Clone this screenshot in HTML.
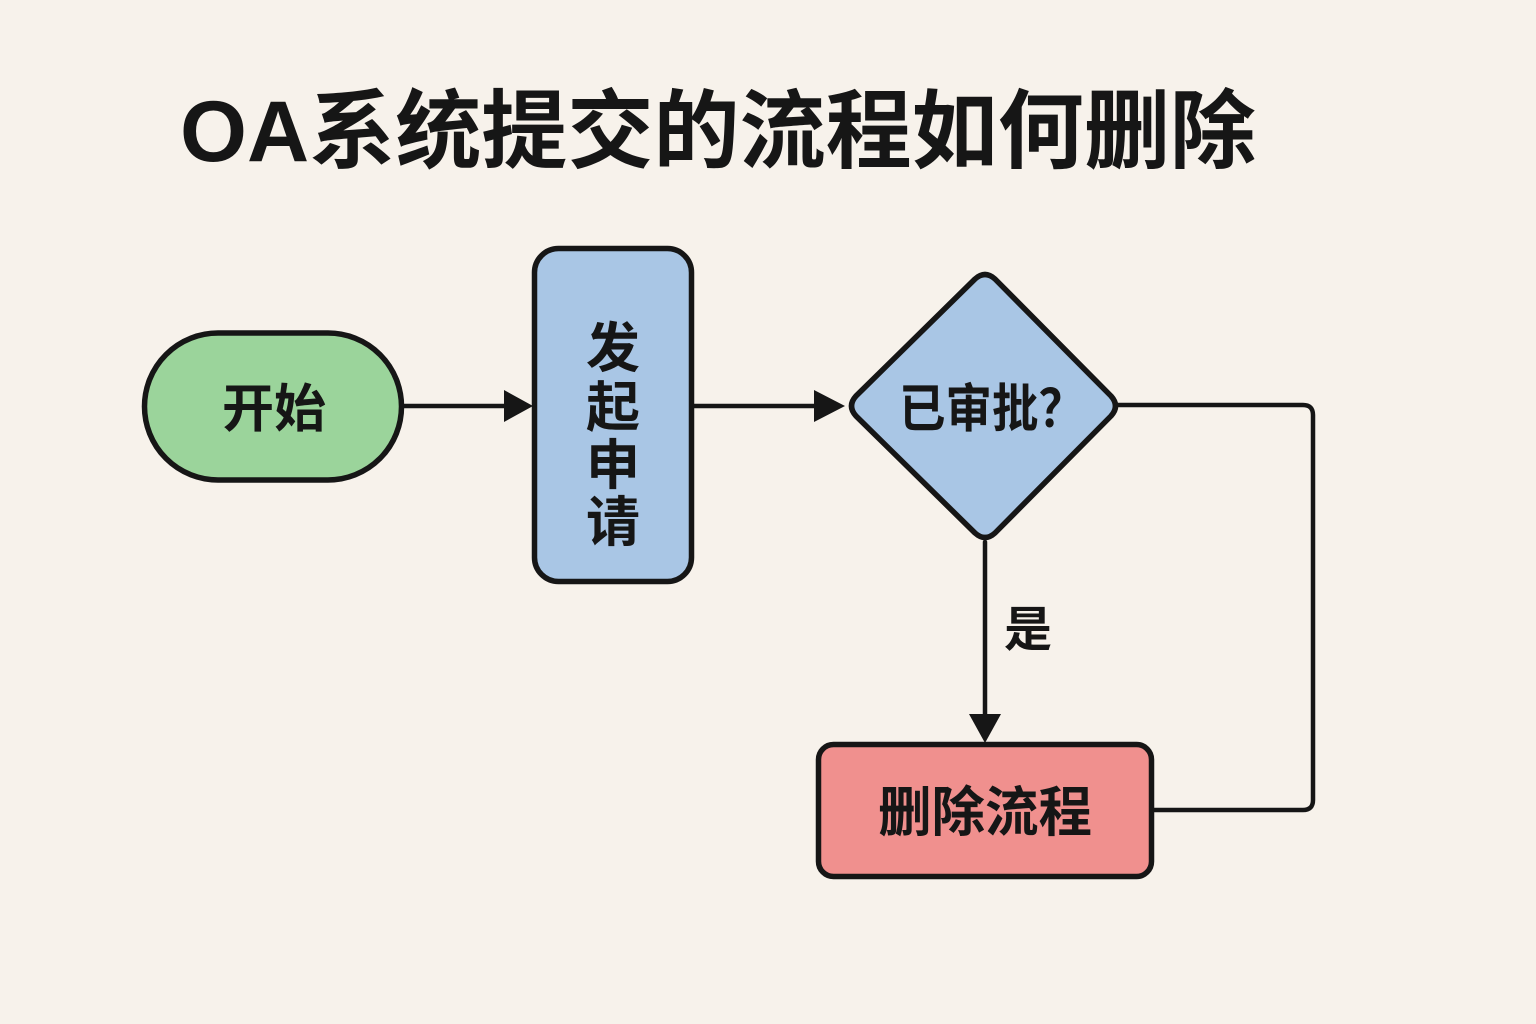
<!DOCTYPE html>
<html>
<head>
<meta charset="utf-8">
<style>
  html, body { margin: 0; padding: 0; }
  body { width: 1536px; height: 1024px; background: #f7f2eb; overflow: hidden; }
  svg { display: block; }
  text { font-family: "Liberation Sans", "Noto Sans CJK SC", sans-serif; font-weight: bold; fill: #161616; }
</style>
</head>
<body>
<svg width="1536" height="1024" viewBox="0 0 1536 1024" xmlns="http://www.w3.org/2000/svg">
  <rect x="0" y="0" width="1536" height="1024" fill="#f7f2eb"/>

  <!-- Title -->
  <text x="180" y="161" font-size="86" textLength="1076" lengthAdjust="spacingAndGlyphs">OA系统提交的流程如何删除</text>

  <!-- Connectors -->
  <g stroke="#161616" stroke-width="4.5" fill="none" stroke-linecap="round" stroke-linejoin="round">
    <line x1="404" y1="406" x2="508" y2="406"/>
    <line x1="694" y1="406" x2="820" y2="406"/>
    <line x1="985" y1="542" x2="985" y2="718"/>
    <path d="M1118 405 L1303 405 Q1313 405 1313 415 L1313 800 Q1313 810 1303 810 L1153 810"/>
  </g>
  <g fill="#161616">
    <polygon points="504,390 533,406 504,422"/>
    <polygon points="814,390 845,406 814,422"/>
    <polygon points="969,714 1001,714 985,743"/>
  </g>

  <!-- Start terminal -->
  <rect x="144.5" y="333" width="257" height="147" rx="73.5" ry="73.5" fill="#9bd49b" stroke="#161616" stroke-width="5.5"/>
  <text x="274" y="427" font-size="52" text-anchor="middle">开始</text>

  <!-- Vertical process box -->
  <rect x="534.5" y="248.5" width="157" height="333" rx="24" ry="24" fill="#a9c6e5" stroke="#161616" stroke-width="5.5"/>
  <text x="613" y="367" font-size="54" text-anchor="middle">发</text>
  <text x="613" y="426" font-size="54" text-anchor="middle">起</text>
  <text x="613" y="484" font-size="54" text-anchor="middle">申</text>
  <text x="613" y="541" font-size="54" text-anchor="middle">请</text>

  <!-- Decision diamond -->
  <path d="M975 279 Q985 270 995 279 L1111 396 Q1120 406 1111 416 L995 533 Q985 542 975 533 L856 416 Q847 406 856 396 Z"
        fill="#a9c6e5" stroke="#161616" stroke-width="5.5" stroke-linejoin="round"/>
  <text x="992" y="427" font-size="52" text-anchor="middle" textLength="186" lengthAdjust="spacingAndGlyphs">已审批？</text>

  <!-- Yes label -->
  <text x="1028" y="646" font-size="48" text-anchor="middle">是</text>

  <!-- Delete box -->
  <rect x="818.5" y="744.5" width="333" height="132" rx="15" ry="15" fill="#f0908e" stroke="#161616" stroke-width="5.5"/>
  <text x="985" y="831" font-size="54" text-anchor="middle" textLength="214" lengthAdjust="spacingAndGlyphs">删除流程</text>
</svg>
</body>
</html>
